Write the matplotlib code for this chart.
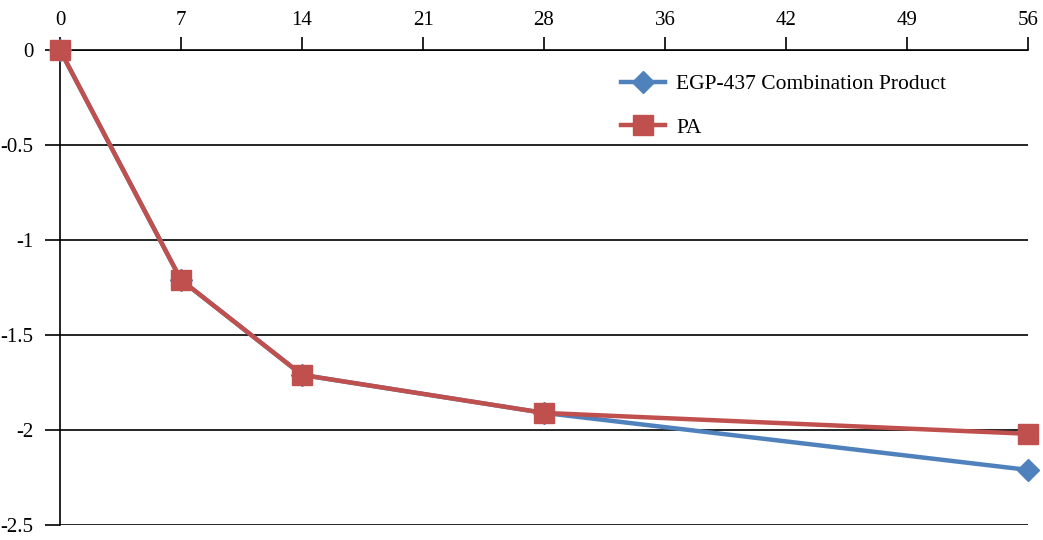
import numpy as np
from matplotlib import pyplot as plt

plt.rcParams['font.family'] = ['Liberation Serif', 'DejaVu Serif']

# categories on the x axis (days)
days = ['0', '7', '14', '21', '28', '36', '42', '49', '56']
# which categories hold data
x_idx = [0, 1, 2, 4, 8]
egp = [0, -1.21, -1.71, -1.91, -2.21]
pa = [0, -1.21, -1.71, -1.91, -2.02]

fig = plt.figure(figsize=(10.43, 5.4), dpi=100)
ax = fig.add_axes([60/1043, 1-525/540, (1028-60)/1043, (525-50)/540])

ax.plot(x_idx, egp, color='#4F81BD', lw=3.2, marker='D', markersize=11.5,
        label='EGP-437 Combination Product', zorder=3, clip_on=False)
ax.plot(x_idx, pa, color='#C0504D', lw=3.2, marker='s', markersize=14,
        label='PA', zorder=4, clip_on=False)

ax.set_xlim(0, len(days)-1)
ax.set_ylim(-2.5, 0)
ax.set_xticks(range(len(days)))
ax.set_xticklabels(days)
ax.set_yticks([0, -0.5, -1, -1.5, -2, -2.5])
ax.set_yticklabels(['0', '-0.5', '-1', '-1.5', '-2', '-2.5'])
ax.xaxis.tick_top()
ax.tick_params(axis='x', direction='out', length=9.4, width=1.2, labelsize=15, pad=5)
ax.tick_params(axis='y', direction='out', length=11, width=1.2, labelsize=15, pad=8)

for s in ['right', 'bottom']:
    ax.spines[s].set_visible(False)
ax.spines['left'].set_linewidth(1.2)
ax.spines['top'].set_linewidth(1.2)
ax.yaxis.grid(True, color='black', lw=1.2)
ax.set_axisbelow(True)

leg = ax.legend(loc='upper left', bbox_to_anchor=(0.56, 0.99), frameon=False,
                fontsize=15.5, handlelength=2.0, handletextpad=0.55,
                labelspacing=1.08)

fig.savefig('out.png', dpi=100)
